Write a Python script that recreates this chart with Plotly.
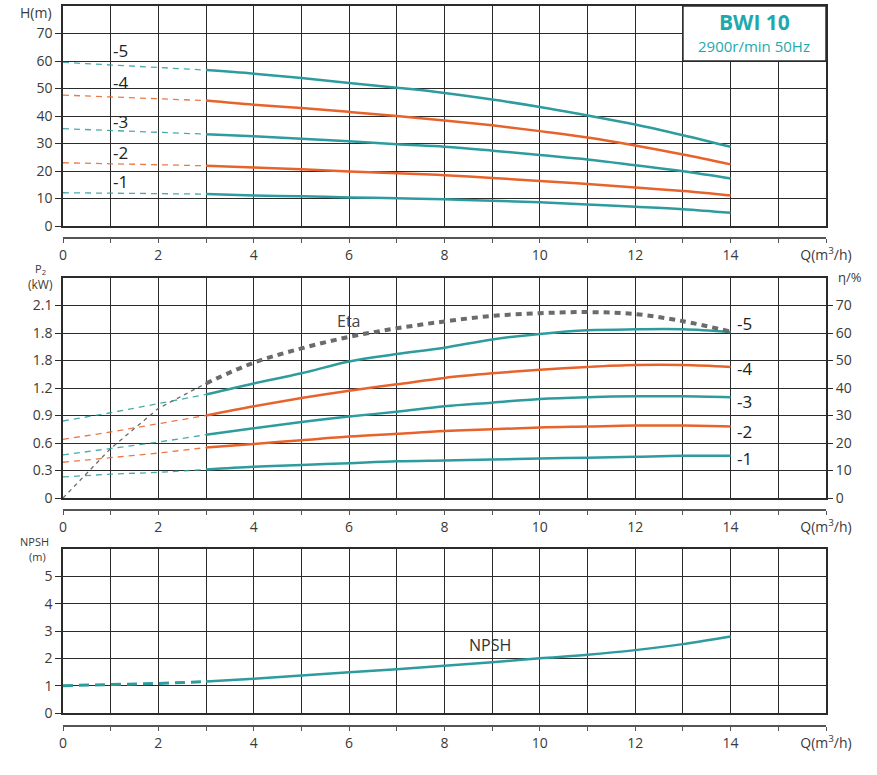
import plotly.graph_objects as go

# ---------------- data ----------------
Q_dash = [0, 1, 2, 3]
Q_solid = [3, 4, 5, 6, 7, 8, 9, 10, 11, 12, 13, 14]

# Head H(m)
H5_dash = [59.5, 58.6, 57.7, 56.7]
H5 = [56.7, 55.4, 53.8, 52.0, 50.3, 48.4, 46.0, 43.3, 40.2, 36.9, 33.0, 28.8]
H4_dash = [47.6, 46.9, 46.1, 45.6]
H4 = [45.6, 44.1, 42.9, 41.5, 40.0, 38.4, 36.6, 34.5, 32.2, 29.3, 26.0, 22.4]
H3_dash = [35.4, 34.8, 34.1, 33.4]
H3 = [33.4, 32.6, 31.7, 30.8, 29.7, 28.8, 27.4, 25.8, 24.2, 22.1, 19.9, 17.3]
H2_dash = [23.0, 22.6, 22.2, 21.9]
H2 = [21.9, 21.3, 20.6, 19.8, 19.2, 18.5, 17.5, 16.4, 15.3, 14.0, 12.7, 11.1]
H1_dash = [12.1, 11.9, 11.8, 11.6]
H1 = [11.6, 11.1, 10.8, 10.4, 10.1, 9.7, 9.2, 8.6, 7.8, 7.0, 6.1, 4.8]

# Power P2 (kW)
P5_dash = [0.84, 0.93, 1.03, 1.13]
P5 = [1.13, 1.25, 1.36, 1.49, 1.57, 1.64, 1.73, 1.79, 1.83, 1.84, 1.84, 1.81]
P4_dash = [0.64, 0.72, 0.81, 0.90]
P4 = [0.90, 1.00, 1.09, 1.17, 1.24, 1.31, 1.36, 1.40, 1.43, 1.45, 1.45, 1.43]
P3_dash = [0.47, 0.54, 0.61, 0.69]
P3 = [0.69, 0.76, 0.83, 0.89, 0.94, 1.00, 1.04, 1.08, 1.10, 1.11, 1.11, 1.10]
P2_dash = [0.39, 0.44, 0.49, 0.55]
P2 = [0.55, 0.59, 0.63, 0.67, 0.70, 0.73, 0.75, 0.77, 0.78, 0.79, 0.79, 0.78]
P1_dash = [0.23, 0.26, 0.28, 0.31]
P1 = [0.31, 0.34, 0.36, 0.38, 0.40, 0.41, 0.42, 0.43, 0.44, 0.45, 0.46, 0.46]

# Efficiency eta (%)
Eta_dash = [0, 18.0, 32.6, 41.7]
Eta = [41.7, 49.2, 54.4, 58.6, 61.7, 64.2, 66.2, 67.2, 67.6, 66.9, 64.3, 60.5]

# NPSH (m)
NPSH_dash = [1.0, 1.03, 1.08, 1.15]
NPSH = [1.15, 1.25, 1.37, 1.49, 1.60, 1.73, 1.86, 2.0, 2.13, 2.30, 2.52, 2.80]

curve_labels = ["-5", "-4", "-3", "-2", "-1"]
H_label_pos = [63.8, 52.2, 38.0, 26.8, 16.0]
P_label_pos = [1.90, 1.41, 1.05, 0.73, 0.43]

x_tickvals = [0, 2, 4, 6, 8, 10, 12, 14, 16]
x_ticktext = ["0", "2", "4", "6", "8", "10", "12", "14", "Q(m<sup>3</sup>/h)"]
H_ticks = [0, 10, 20, 30, 40, 50, 60, 70]
P_tickvals = [0, 0.3, 0.6, 0.9, 1.2, 1.5, 1.8, 2.1]
P_ticktext = ["0", "0.3", "0.6", "0.9", "1.2", "1.8", "1.8", "2.1"]
Eta_ticks = [0, 10, 20, 30, 40, 50, 60, 70]
N_ticks = [0, 1, 2, 3, 4, 5]

TEAL = "#2e9c9e"
ORANGE = "#e8632b"
GRAY = "#6b6b6b"
GRID = "#2b2b2b"
TXT = "#3a3a3a"
FONT = "Open Sans"

W, Hh = 877, 775
def px(x):
    return x / W
def py(y):
    return 1 - y / Hh

dom_x = [px(63), px(826)]
dom_top = [py(226), py(6)]
dom_mid = [py(498), py(278)]
dom_bot = [py(713), py(549)]

fig = go.Figure()

def add_curve(xd, yd, xs, ys, color, xa, ya, wd=2.5, wdash=1.3):
    fig.add_trace(go.Scatter(x=xd, y=yd, mode="lines", xaxis=xa, yaxis=ya,
                             line=dict(color=color, width=wdash, dash="6px,5px"),
                             opacity=0.85, showlegend=False, hoverinfo="skip"))
    fig.add_trace(go.Scatter(x=xs, y=ys, mode="lines", xaxis=xa, yaxis=ya,
                             line=dict(color=color, width=wd, shape="spline"),
                             showlegend=False, hoverinfo="skip"))

H_series = [(H5_dash, H5, TEAL), (H4_dash, H4, ORANGE), (H3_dash, H3, TEAL),
            (H2_dash, H2, ORANGE), (H1_dash, H1, TEAL)]
for d, s, c in H_series:
    add_curve(Q_dash, d, Q_solid, s, c, "x", "y")

P_series = [(P5_dash, P5, TEAL), (P4_dash, P4, ORANGE), (P3_dash, P3, TEAL),
            (P2_dash, P2, ORANGE), (P1_dash, P1, TEAL)]
for d, s, c in P_series:
    add_curve(Q_dash, d, Q_solid, s, c, "x2", "y2")

# Eta
fig.add_trace(go.Scatter(x=Q_dash, y=Eta_dash, mode="lines", xaxis="x2", yaxis="y4",
                         line=dict(color=GRAY, width=1.3, dash="4px,4px"),
                         showlegend=False, hoverinfo="skip"))
fig.add_trace(go.Scatter(x=Q_solid, y=Eta, mode="lines", xaxis="x2", yaxis="y4",
                         line=dict(color=GRAY, width=4, dash="6px,5px", shape="spline"),
                         showlegend=False, hoverinfo="skip"))

# NPSH
fig.add_trace(go.Scatter(x=Q_dash, y=NPSH_dash, mode="lines", xaxis="x3", yaxis="y3",
                         line=dict(color=TEAL, width=3, dash="10px,6px"),
                         showlegend=False, hoverinfo="skip"))
fig.add_trace(go.Scatter(x=Q_solid, y=NPSH, mode="lines", xaxis="x3", yaxis="y3",
                         line=dict(color=TEAL, width=2.5, shape="spline"),
                         showlegend=False, hoverinfo="skip"))

# invisible carriers so the separate Q axes are drawn
for xa, ya in [("x4", "y"), ("x5", "y2"), ("x6", "y3")]:
    fig.add_trace(go.Scatter(x=[0], y=[None], mode="lines", xaxis=xa, yaxis=ya,
                             showlegend=False, hoverinfo="skip"))

grid_x = dict(range=[0, 16], dtick=1, tick0=0, showgrid=True, gridcolor=GRID, gridwidth=1.3,
              showticklabels=False, ticks="", showline=True, linecolor=GRID, linewidth=1.5,
              mirror=True, zeroline=False, domain=dom_x, fixedrange=True, automargin=False)

tick_axis = dict(range=[0, 16], tickvals=x_tickvals, ticktext=x_ticktext, showgrid=False,
                 showline=True, linecolor="#555555", linewidth=1.5, ticks="outside",
                 ticklen=4, tickcolor="#555555", tickfont=dict(family=FONT, size=14, color=TXT),
                 minor=dict(dtick=1, tick0=0, ticks="outside", ticklen=4, tickcolor="#555555"),
                 zeroline=False, anchor="free", domain=dom_x, fixedrange=True, automargin=False)

ytick_font = dict(family=FONT, size=14, color=TXT)

fig.update_layout(
    width=W, height=Hh, margin=dict(l=0, r=0, t=0, b=0, autoexpand=False),
    paper_bgcolor="white", plot_bgcolor="white",
    font=dict(family=FONT, color=TXT),
    xaxis=dict(grid_x, anchor="y"),
    xaxis2=dict(grid_x, anchor="y2"),
    xaxis3=dict(grid_x, anchor="y3"),
    xaxis4=dict(tick_axis, overlaying="x", position=py(238)),
    xaxis5=dict(tick_axis, overlaying="x2", position=py(510)),
    xaxis6=dict(tick_axis, overlaying="x3", position=py(726)),
    yaxis=dict(range=[0, 80], domain=dom_top, anchor="x", tickvals=H_ticks,
               showgrid=True, gridcolor=GRID, gridwidth=1.3,
               ticks="outside", ticklen=6, tickcolor=GRID, tickfont=ytick_font,
               showline=True, linecolor=GRID, linewidth=1.5, mirror=True,
               zeroline=False, fixedrange=True, automargin=False),
    yaxis2=dict(range=[0, 2.4], domain=dom_mid, anchor="x2", tickvals=P_tickvals,
                ticktext=P_ticktext, showgrid=True, gridcolor=GRID, gridwidth=1.3,
                ticks="outside", ticklen=6, tickcolor=GRID, tickfont=ytick_font,
                showline=True, linecolor=GRID, linewidth=1.5, mirror=True,
                zeroline=False, fixedrange=True, automargin=False),
    yaxis4=dict(range=[0, 80], overlaying="y2", side="right", anchor="x2",
                tickvals=Eta_ticks, showgrid=False, ticks="outside", ticklen=6,
                tickcolor=GRID, tickfont=ytick_font, showline=False, zeroline=False,
                fixedrange=True, automargin=False),
    yaxis3=dict(range=[0, 6], domain=dom_bot, anchor="x3", tickvals=N_ticks,
                showgrid=True, gridcolor=GRID, gridwidth=1.3,
                ticks="outside", ticklen=6, tickcolor=GRID, tickfont=ytick_font,
                showline=True, linecolor=GRID, linewidth=1.5, mirror=True,
                zeroline=False, fixedrange=True, automargin=False),
)

def note(x, y, text, size, color=TXT, xref="paper", yref="paper", xanchor="center"):
    fig.add_annotation(x=x, y=y, xref=xref, yref=yref, text=text, showarrow=False,
                       xanchor=xanchor, yanchor="middle",
                       font=dict(family=FONT, size=size, color=color))

# title box
fig.add_shape(type="rect", xref="x", yref="y", x0=13, x1=16, y0=60, y1=80,
              fillcolor="white", line=dict(color=GRID, width=1.5), layer="above")
note(14.5, 74.2, "<b>BWI 10</b>", 21, "#1fa9ad", "x", "y")
note(14.5, 65.6, "2900r/min 50Hz", 15, "#1fa9ad", "x", "y")

# curve labels
for lab, yv in zip(curve_labels, H_label_pos):
    note(1.2, yv, lab, 17, "#222222", "x", "y")
for lab, yv in zip(curve_labels, P_label_pos):
    note(14.1, yv, lab, 17, "#222222", "x2", "y2", xanchor="left")

note(5.98, 1.93, "Eta", 16, "#444444", "x2", "y2")
note(8.95, 2.5, "NPSH", 16, "#333333", "x3", "y3")

# axis unit labels
note(px(36), py(12), "H(m)", 14)
note(px(40), py(269), "P<sub>2</sub>", 11)
note(px(40), py(285), "(kW)", 12)
note(px(850), py(277), "η/%", 13)
note(px(34), py(541), "NPSH", 11)
note(px(37), py(556), "(m)", 11)

fig.write_html("out.html", config={"displayModeBar": False},
               post_script="document.body.style.margin='0';document.body.style.overflow='hidden';")
